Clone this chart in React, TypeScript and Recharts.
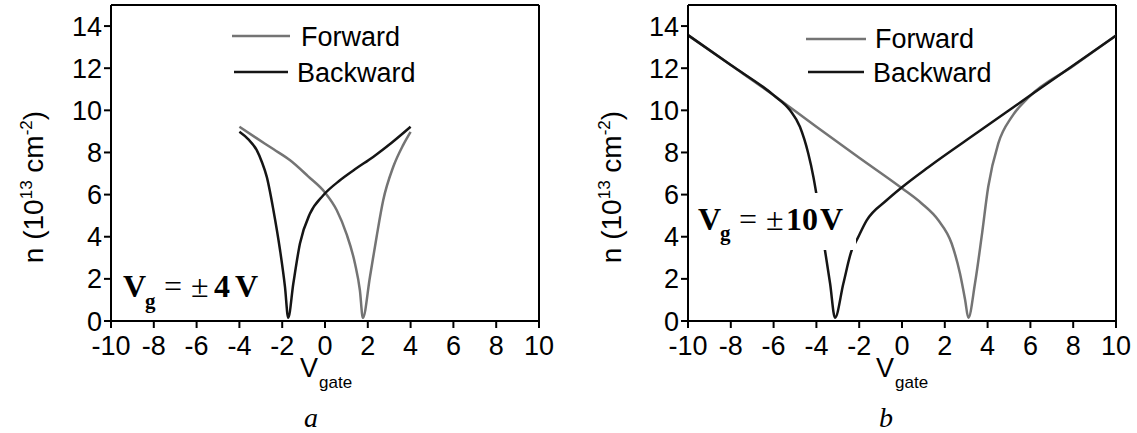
import { LineChart, Line, XAxis, YAxis, ReferenceLine } from 'recharts';

// carrier density n (10^13 cm^-2) vs gate voltage
const xTicks = [-10, -8, -6, -4, -2, 0, 2, 4, 6, 8, 10];
const yTicks = [0, 2, 4, 6, 8, 10, 12, 14];

// panel a: Vg = +-4 V sweep
const forwardA = [
  { v: -4.0, n: 9.22 }, { v: -3.2, n: 8.68 }, { v: -2.4, n: 8.15 }, { v: -1.63, n: 7.63 },
  { v: -0.8, n: 6.88 }, { v: 0.0, n: 6.1 }, { v: 0.55, n: 5.26 }, { v: 1.0, n: 4.15 },
  { v: 1.4, n: 2.73 }, { v: 1.63, n: 1.46 }, { v: 1.77, n: 0.15 }, { v: 2.1, n: 2.09 },
  { v: 2.41, n: 3.99 }, { v: 2.72, n: 5.73 }, { v: 3.19, n: 7.32 }, { v: 3.65, n: 8.35 },
  { v: 4.0, n: 8.98 },
];
const backwardA = [
  { v: -4.0, n: 8.98 }, { v: -3.58, n: 8.62 }, { v: -3.19, n: 8.11 }, { v: -2.95, n: 7.55 },
  { v: -2.72, n: 6.84 }, { v: -2.41, n: 5.26 }, { v: -2.1, n: 3.36 }, { v: -1.87, n: 1.62 },
  { v: -1.72, n: 0.15 }, { v: -1.48, n: 1.78 }, { v: -1.17, n: 3.68 }, { v: -0.7, n: 5.1 },
  { v: -0.08, n: 5.97 }, { v: 0.7, n: 6.68 }, { v: 1.4, n: 7.2 }, { v: 2.25, n: 7.79 },
  { v: 3.1, n: 8.45 }, { v: 4.0, n: 9.22 },
];

// panel b: Vg = +-10 V sweep
const forwardB = [
  { v: -10, n: 13.57 }, { v: -8, n: 12.15 }, { v: -6, n: 10.72 }, { v: -4, n: 9.22 },
  { v: -2, n: 7.75 }, { v: 0, n: 6.3 }, { v: 0.92, n: 5.58 }, { v: 1.7, n: 4.78 },
  { v: 2.32, n: 3.68 }, { v: 2.71, n: 2.25 }, { v: 2.95, n: 1.0 }, { v: 3.1, n: 0.15 },
  { v: 3.41, n: 1.78 }, { v: 3.72, n: 3.99 }, { v: 4.03, n: 6.37 }, { v: 4.5, n: 8.43 },
  { v: 5.13, n: 9.69 }, { v: 5.9, n: 10.6 }, { v: 8, n: 12.1 }, { v: 10, n: 13.55 },
];
const backwardB = [
  { v: -10, n: 13.57 }, { v: -8, n: 12.15 }, { v: -6, n: 10.72 }, { v: -5.23, n: 10.0 },
  { v: -4.77, n: 9.22 }, { v: -4.38, n: 7.95 }, { v: -4.14, n: 6.84 }, { v: -3.99, n: 5.97 },
  { v: -3.6, n: 3.36 }, { v: -3.36, n: 1.78 }, { v: -3.13, n: 0.15 }, { v: -2.74, n: 1.78 },
  { v: -2.35, n: 3.36 }, { v: -2.12, n: 3.83 }, { v: -1.65, n: 4.78 }, { v: -0.72, n: 5.73 },
  { v: 0, n: 6.35 }, { v: 1.23, n: 7.3 }, { v: 3.57, n: 8.98 }, { v: 5.9, n: 10.64 },
  { v: 10, n: 13.55 },
];

const SANS = '"Liberation Sans", Arial, sans-serif';
const SERIF = '"Liberation Serif", "Times New Roman", serif';
const GRAY = '#747474';
const BLACK = '#151515';

const Panel = ({ left, width, axisW, forward, backward }: any) => (
  <div style={{ position: 'absolute', left, top: 0 }}>
    <LineChart width={width} height={433} margin={{ top: 5, right: 21, bottom: 82, left: 0 }}>
      <XAxis
        type="number"
        dataKey="v"
        domain={[-10, 10]}
        ticks={xTicks}
        interval={0}
        allowDataOverflow
        height={30}
        tickSize={7}
        tickMargin={8}
        axisLine={{ stroke: '#000', strokeWidth: 2 }}
        tickLine={{ stroke: '#000', strokeWidth: 2 }}
        tick={{ fill: '#000', fontSize: 27, fontFamily: SANS }}
      />
      <YAxis
        type="number"
        domain={[0, 15]}
        ticks={yTicks}
        interval={0}
        allowDataOverflow
        width={axisW}
        tickSize={7}
        tickMargin={2}
        axisLine={{ stroke: '#000', strokeWidth: 2 }}
        tickLine={{ stroke: '#000', strokeWidth: 2 }}
        tick={{ fill: '#000', fontSize: 27, fontFamily: SANS }}
      />
      <ReferenceLine y={15} stroke="#000" strokeWidth={2} />
      <ReferenceLine x={10} stroke="#000" strokeWidth={2} />
      <Line data={forward} dataKey="n" type="monotone" stroke={GRAY} strokeWidth={2.5} dot={false} activeDot={false} isAnimationActive={false} />
      <Line data={backward} dataKey="n" type="monotone" stroke={BLACK} strokeWidth={2.5} dot={false} activeDot={false} isAnimationActive={false} />
    </LineChart>
  </div>
);

const YLabel = ({ x }: { x: number }) => (
  <text transform={`translate(${x},187) rotate(-90)`} textAnchor="middle" fontFamily={SANS} fontSize={28}>
    n (10<tspan fontSize={17} dy={-11}>13</tspan>
    <tspan dy={11}> cm</tspan>
    <tspan fontSize={17} dy={-11}>-2</tspan>
    <tspan dy={11}>)</tspan>
  </text>
);

const XLabel = ({ x }: { x: number }) => (
  <g fontFamily={SANS}>
    <text x={x} y={377} fontSize={27}>V</text>
    <text x={x + 19} y={388} fontSize={17}>gate</text>
  </g>
);

const LegendBox = ({ x1, x2, y1, y2, tx1, tx2, ty1, ty2 }: any) => (
  <g fontFamily={SANS} fontSize={27}>
    <line x1={x1} x2={x2} y1={y1} y2={y1} stroke={GRAY} strokeWidth={2.5} />
    <text x={tx1} y={ty1}>Forward</text>
    <line x1={x1 + 2} x2={x2 - 2} y1={y2} y2={y2} stroke={BLACK} strokeWidth={2.5} />
    <text x={tx2} y={ty2}>Backward</text>
  </g>
);

export default function App() {
  return (
    <div style={{ position: 'absolute', left: 0, top: 0, width: 1137, height: 433, background: '#fff' }}>
      <Panel left={0} width={560} axisW={111} forward={forwardA} backward={backwardA} />
      <Panel left={560} width={577} axisW={128} forward={forwardB} backward={backwardB} />
      <svg width={1137} height={433} style={{ position: 'absolute', left: 0, top: 0, pointerEvents: 'none' }}>
        <LegendBox x1={232} x2={290} y1={36} y2={72} tx1={301} tx2={297} ty1={45.5} ty2={81.5} />
        <LegendBox x1={806} x2={866} y1={39} y2={72} tx1={875} tx2={873} ty1={48} ty2={82} />
        <YLabel x={43} />
        <YLabel x={621} />
        <XLabel x={300} />
        <XLabel x={876} />

        {/* annotation a */}
        <g fontFamily={SERIF}>
          <text x={123} y={297} fontSize={32} fontWeight="bold">V</text>
          <text x={145} y={308} fontSize={21} fontWeight="bold">g</text>
          <text x={164} y={297} fontSize={32}>=</text>
          <text x={191} y={297} fontSize={32}>±</text>
          <text x={214} y={297} fontSize={32} fontWeight="bold">4</text>
          <text x={235} y={297} fontSize={32} fontWeight="bold">V</text>
        </g>

        {/* annotation b, with white box that masks the curve */}
        <rect x={692} y={193} width={164} height={57} fill="#fff" />
        <g fontFamily={SERIF}>
          <text x={698} y={230} fontSize={32} fontWeight="bold">V</text>
          <text x={720} y={240} fontSize={21} fontWeight="bold">g</text>
          <text x={739} y={230} fontSize={32}>=</text>
          <text x={766} y={230} fontSize={32}>±</text>
          <text x={786} y={230} fontSize={32} fontWeight="bold">10</text>
          <text x={820} y={230} fontSize={32} fontWeight="bold">V</text>
        </g>

        <text x={311} y={427} textAnchor="middle" fontFamily={SERIF} fontStyle="italic" fontSize={28}>a</text>
        <text x={886} y={427} textAnchor="middle" fontFamily={SERIF} fontStyle="italic" fontSize={28}>b</text>
      </svg>
    </div>
  );
}
